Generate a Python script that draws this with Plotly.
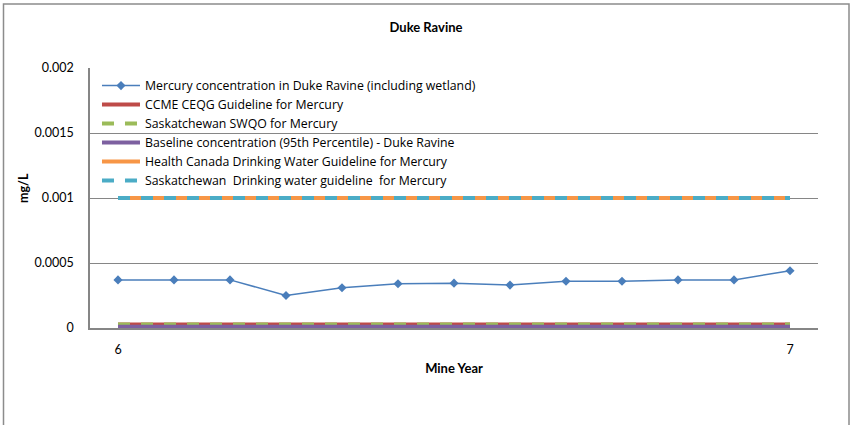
import plotly.graph_objects as go

# ---- data ----
x_index = list(range(13))
x_ticklabels = ["6", "", "", "", "", "", "", "", "", "", "", "", "7"]
mercury = [0.00037, 0.00037, 0.00037, 0.00025, 0.00031, 0.00034, 0.000345,
           0.00033, 0.00036, 0.00036, 0.00037, 0.00037, 0.00044]
ccme_ceqg = [0.000026] * 13
sask_swqo = [0.000026] * 13
baseline_95 = [0.00001] * 13
health_canada_dw = [0.001] * 13
sask_dw = [0.001] * 13

FONT = "Lato"
LEGEND_FONT = "Open Sans"
PLOT_L, PLOT_R, PLOT_T, PLOT_B = 90, 818, 68, 328
W, H = 852, 425
PW, PH = PLOT_R - PLOT_L, PLOT_B - PLOT_T

fig = go.Figure()
fig.add_trace(go.Scatter(
    x=x_index, y=mercury, mode="lines+markers",
    name="Mercury concentration in Duke Ravine (including wetland)",
    line=dict(color="#4A7EBB", width=1.5),
    marker=dict(symbol="diamond", size=7, color="#4A7EBB")))
fig.add_trace(go.Scatter(
    x=x_index, y=ccme_ceqg, mode="lines", name="CCME CEQG Guideline for Mercury",
    line=dict(color="#BE4B48", width=4)))
fig.add_trace(go.Scatter(
    x=x_index, y=sask_swqo, mode="lines", name="Saskatchewan SWQO for Mercury",
    line=dict(color="#9BBB59", width=4, dash="12px,11px")))
fig.add_trace(go.Scatter(
    x=x_index, y=baseline_95, mode="lines",
    name="Baseline concentration (95th Percentile) - Duke Ravine",
    line=dict(color="#7D60A0", width=4)))
fig.add_trace(go.Scatter(
    x=x_index, y=health_canada_dw, mode="lines",
    name="Health Canada Drinking Water Guideline for Mercury",
    line=dict(color="#F79646", width=4)))
fig.add_trace(go.Scatter(
    x=x_index, y=sask_dw, mode="lines",
    name="Saskatchewan  Drinking water guideline  for Mercury",
    line=dict(color="#4BACC6", width=4, dash="12px,11px")))

fig.update_layout(
    width=W, height=H,
    margin=dict(l=PLOT_L, r=W - PLOT_R, t=PLOT_T, b=H - PLOT_B),
    paper_bgcolor="white", plot_bgcolor="white",
    font=dict(family=FONT, size=12, color="black"),
    title=dict(text="<b>Duke Ravine</b>", x=0.5, xref="container", xanchor="center",
               y=1 - 27 / H, yref="container", yanchor="middle",
               font=dict(family=FONT, size=13, color="black")),
    legend=dict(x=0.0096, y=0.988, xanchor="left", yanchor="top",
                bgcolor="rgba(0,0,0,0)", borderwidth=0,
                font=dict(family=LEGEND_FONT, size=12.3, color="black"),
                tracegroupgap=0, itemwidth=38),
    showlegend=True,
    shapes=[dict(type="rect", xref="paper", yref="paper",
                 x0=(3.5 - PLOT_L) / PW, x1=(849 - PLOT_L) / PW,
                 y0=-0.6, y1=1 + (PLOT_T - 4) / PH,
                 line=dict(color="#8C8C8C", width=1.5), layer="below")],
    annotations=[dict(text="<b>mg/L</b>", textangle=-90, xref="paper", yref="paper",
                      x=(23 - PLOT_L) / PW, y=(PLOT_B - 188) / PH,
                      xanchor="center", yanchor="middle", showarrow=False,
                      font=dict(family=FONT, size=12.5, color="black"))],
)
fig.update_xaxes(
    range=[-0.5, 12.5], tickmode="array", tickvals=x_index, ticktext=x_ticklabels,
    showgrid=False, zeroline=False, showline=True, linecolor="#868686", linewidth=1.5,
    ticks="outside", ticklen=9, tickcolor="rgba(0,0,0,0)",
    tickfont=dict(family=FONT, size=12.5),
    title=dict(text="<b>Mine Year</b>", standoff=8, font=dict(family=FONT, size=13)))
fig.update_yaxes(
    range=[0, 0.002], tickvals=[0, 0.0005, 0.001, 0.0015, 0.002],
    ticktext=["0", "0.0005", "0.001", "0.0015", "0.002"],
    showgrid=True, gridcolor="#868686", gridwidth=1, zeroline=False,
    showline=True, linecolor="#868686", linewidth=1.5,
    ticks="outside", ticklen=12, tickcolor="rgba(0,0,0,0)",
    tickfont=dict(family=FONT, size=12.5))

fig.write_html("out.html", config={"displayModeBar": False},
               post_script="document.body.style.margin='0';document.body.style.padding='0';")
